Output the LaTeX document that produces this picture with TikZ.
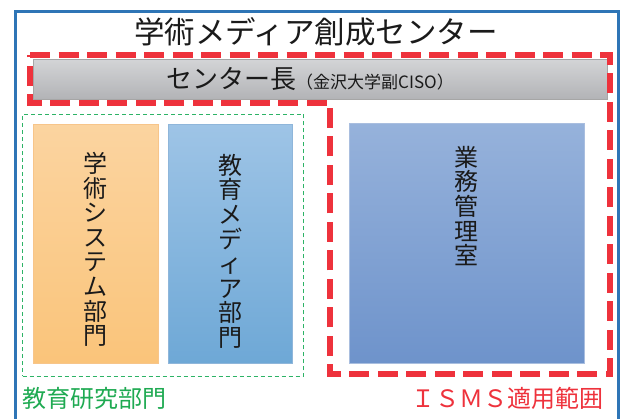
\documentclass[tikz,border=0pt]{standalone}
\usepackage{fontspec}
\setmainfont{Noto Sans CJK JP}
\definecolor{frameblue}{HTML}{2E75B6}
\definecolor{ismsred}{HTML}{EE323C}
\definecolor{edugreen}{HTML}{2DB366}
\definecolor{edutext}{HTML}{1FAA52}
\definecolor{graytop}{HTML}{D3D4D6}
\definecolor{graybot}{HTML}{B2B3B6}
\definecolor{grayline}{HTML}{A6A6A6}
\definecolor{orgtop}{HTML}{FBD4A0}
\definecolor{orgbot}{HTML}{FAC47A}
\definecolor{orgline}{HTML}{F7C58A}
\definecolor{bltop}{HTML}{9EC4E6}
\definecolor{blbot}{HTML}{6EA8D6}
\definecolor{blline}{HTML}{8FB6DA}
\definecolor{gmtop}{HTML}{96B2DB}
\definecolor{gmbot}{HTML}{6E93CB}
\definecolor{gmline}{HTML}{A9BEDF}
\definecolor{ink}{HTML}{1A1A1A}
\begin{document}
\begin{tikzpicture}[x=1pt,y=-1pt,
  fillbox/.style={shade, shading angle=0, rectangle, anchor=north west, inner sep=0pt, line width=0.8pt},
  vtext/.style={anchor=north, align=center, inner sep=0pt, text=ink, font=\fontsize{24}{24.6}\selectfont},
  isms/.style={draw=ismsred, line width=5.5pt, dash pattern=on 20pt off 8.5pt},
  edubox/.style={draw=edugreen, line width=1pt, dash pattern=on 4pt off 3pt, anchor=north west, inner sep=0pt}
]
\useasboundingbox (0,0) rectangle (622,419);
% outer frame (bottom runs past the picture)
\coordinate (fbl) at (15,425);
\coordinate (ftl) at (15,12);
\coordinate (ftr) at (618,12);
\coordinate (fbr) at (618,425);
\draw[frameblue, line width=3pt] (fbl) -- (ftl) -- (ftr) -- (fbr);
% title
\node[text=ink, font=\fontsize{30.5}{30.5}\selectfont] (title) at (316,32) {学術メディア創成センター};
% center head bar
\node[fillbox, top color=graytop, bottom color=graybot, draw=grayline, minimum width=574pt, minimum height=40pt] (chief) at (33,59) {};
\node[text=ink, inner sep=0pt] (chieftext) at (310,79) {\fontsize{26}{26}\selectfont センター長\fontsize{17}{17}\selectfont （金沢大学副CISO）};
% education research division
\node[edubox, minimum width=281pt, minimum height=262pt] (edu) at (22,114) {};
\node[fillbox, top color=orgtop, bottom color=orgbot, draw=orgline, minimum width=125pt, minimum height=239pt] (gakujutsu) at (33,124) {};
\node[vtext] (gakujutsutext) at (gakujutsu.north |- 0,152) {学\\術\\シ\\ス\\テ\\ム\\部\\門};
\node[fillbox, top color=bltop, bottom color=blbot, draw=blline, minimum width=124pt, minimum height=239pt] (kyoiku) at (168,124) {};
\node[vtext] (kyoikutext) at (kyoiku.north |- 0,154) {教\\育\\メ\\デ\\ィ\\ア\\部\\門};
\node[anchor=west, inner sep=0pt, text=edutext, font=\fontsize{24}{24}\selectfont] (edulabel) at (22,398) {教育研究部門};
% business office
\node[fillbox, top color=gmtop, bottom color=gmbot, draw=gmline, minimum width=235pt, minimum height=240pt] (gyomu) at (349,123) {};
\node[vtext] (gyomutext) at (gyomu.north |- 0,146) {業\\務\\管\\理\\室};
% ISMS scope
\coordinate (i1) at (30,55);
\coordinate (i2) at (610,55);
\coordinate (i3) at (610,374);
\coordinate (i4) at (330,374);
\coordinate (i5) at (330,103);
\coordinate (i6) at (30,103);
\draw[isms] (i1) -- (i2) -- (i3) -- (i4) -- (i5) -- (i6) -- cycle;
\node[anchor=east, inner sep=0pt, text=ismsred, font=\fontsize{24}{24}\selectfont] (ismslabel) at (604,398) {ＩＳＭＳ適用範囲};
\end{tikzpicture}
\end{document}
